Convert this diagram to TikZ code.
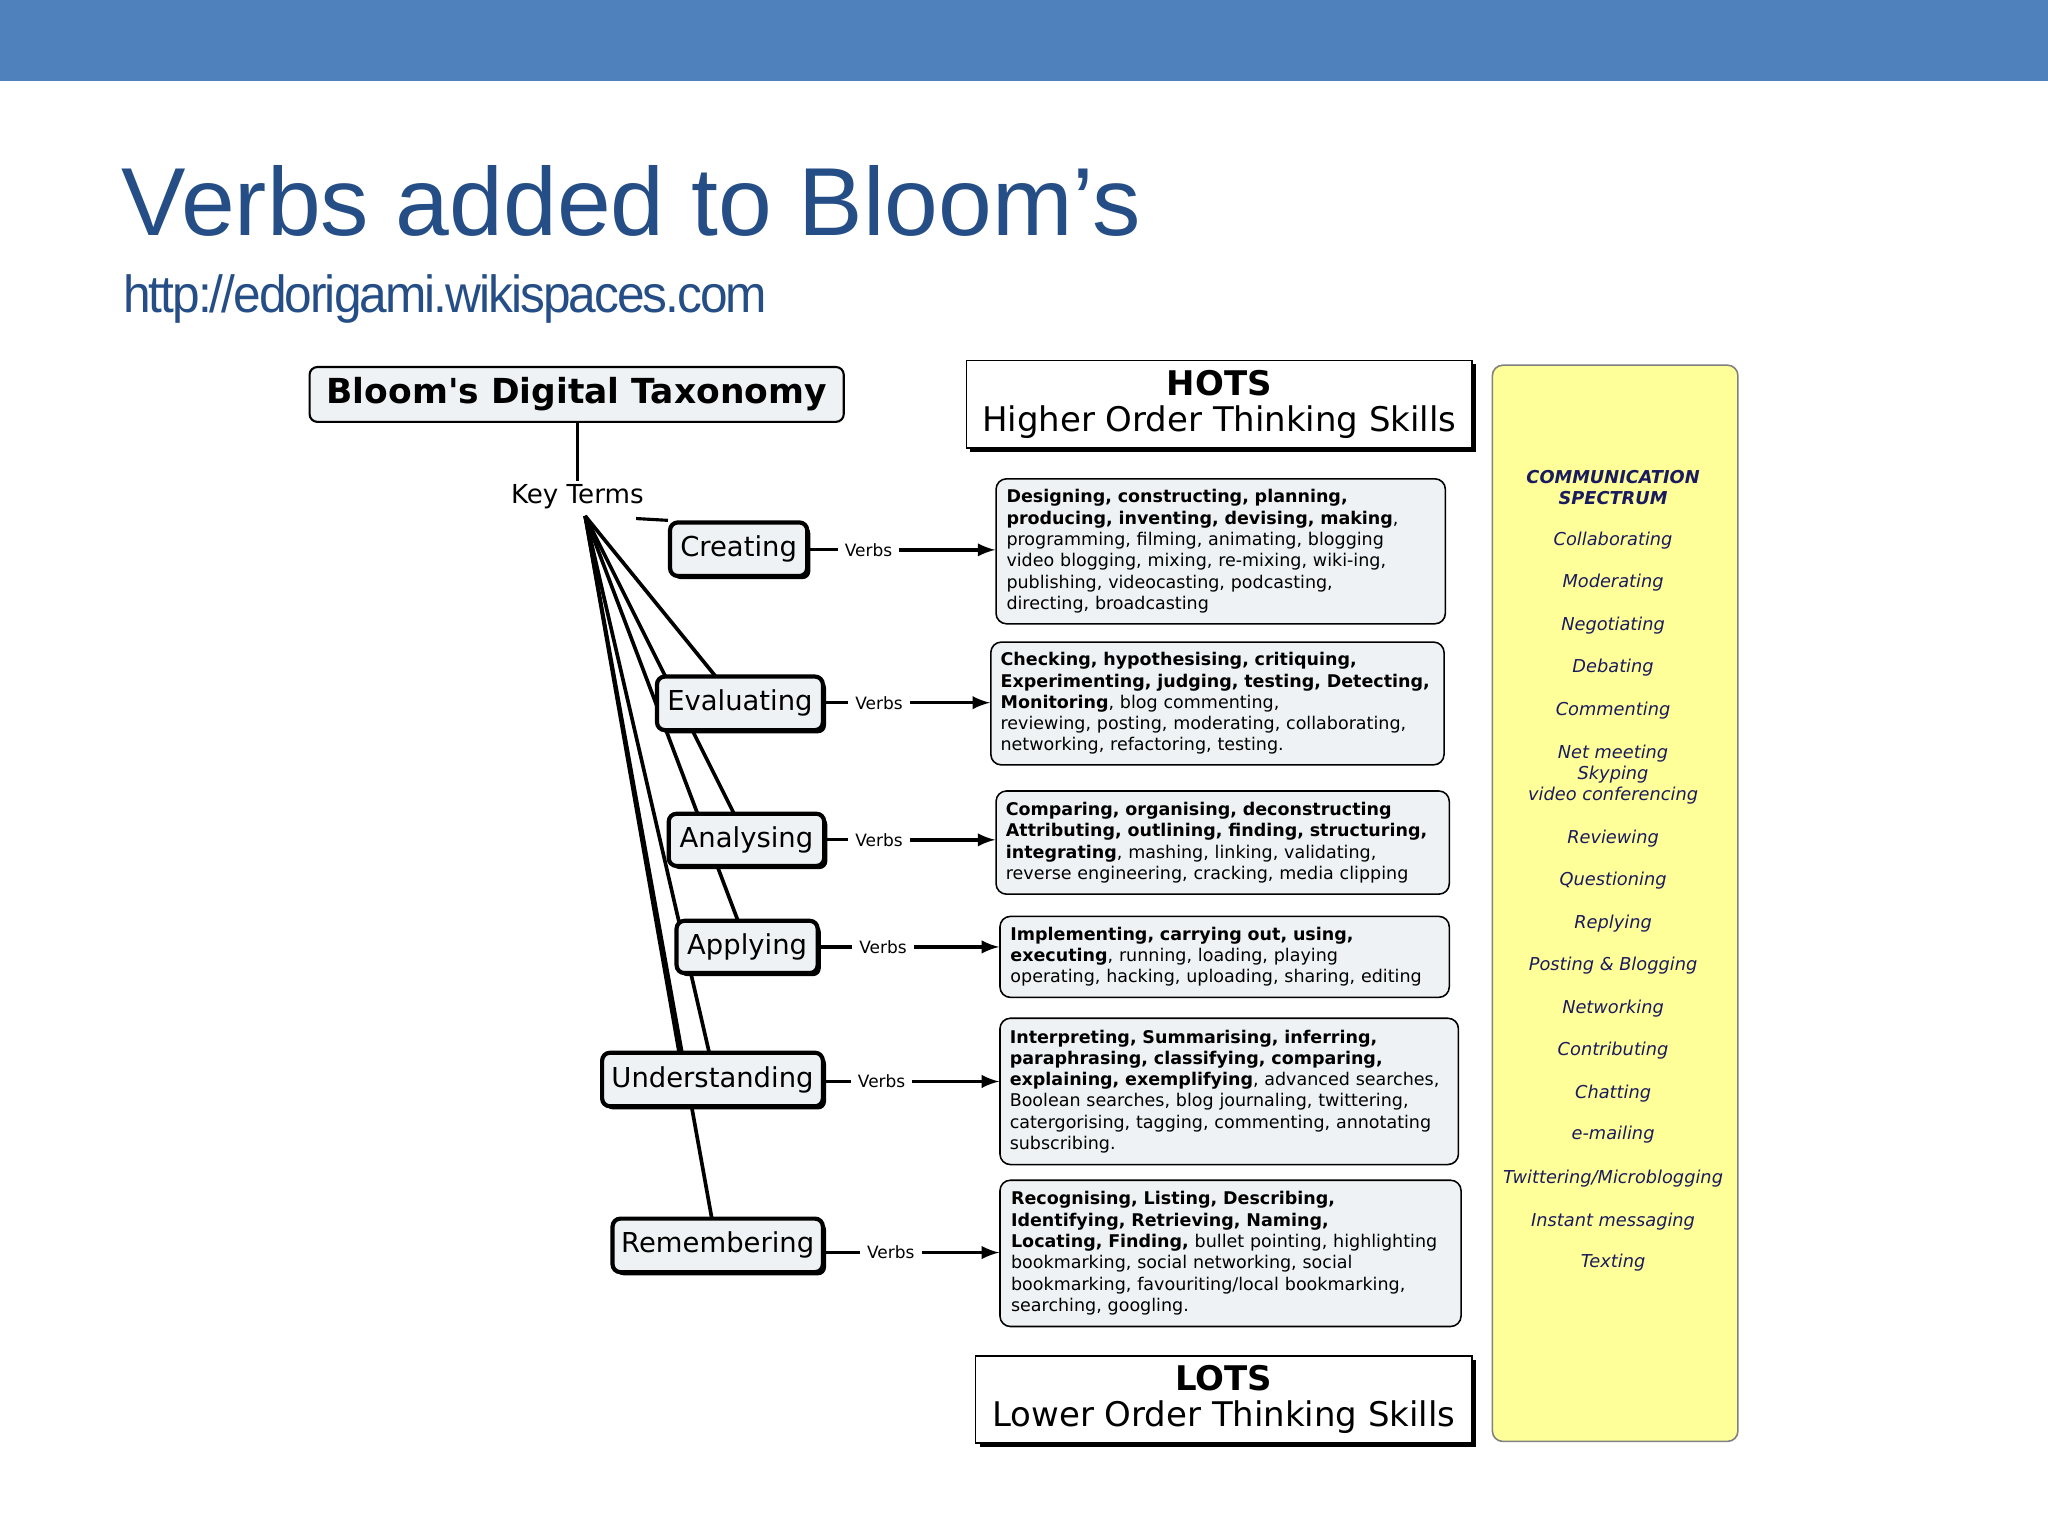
\documentclass[tikz,border=0pt]{standalone}
\usepackage{fontspec}
\setmainfont{DejaVu Sans}
\newfontfamily\arialf{Liberation Sans}
\usetikzlibrary{shadows,backgrounds}
\definecolor{barblue}{HTML}{4F81BD}
\definecolor{titleblue}{HTML}{254E86}
\definecolor{boxgray}{HTML}{EEF2F4}
\definecolor{yel}{HTML}{FFFF99}
\definecolor{navy}{HTML}{1A1A5E}
\begin{document}
\begin{tikzpicture}[x=0.5pt,y=-0.5pt,
  key/.style={draw,line width=1.6pt,rounded corners=3pt,fill=boxgray,inner sep=0pt,font=\fontsize{10.5}{12}\selectfont,
    drop shadow={shadow xshift=1.2pt,shadow yshift=-1.2pt,fill=black,opacity=1}},
  vbox/.style={draw,line width=0.6pt,rounded corners=4pt,fill=boxgray,inner sep=0pt,align=left,anchor=north west,
    font=\fontsize{6.7}{8.15}\selectfont},
  hl/.style={draw,line width=0.6pt,fill=white,inner sep=0pt,align=center,
    drop shadow={shadow xshift=1.5pt,shadow yshift=-1.5pt,fill=black,opacity=1}},
  vb/.style={font=\fontsize{6.5}{7}\selectfont,inner sep=0pt},
  arr/.style={-latex,line width=1.3pt},
  fan/.style={line width=1.4pt},
  yi/.style={font=\itshape\fontsize{6.8}{8.15}\selectfont,text=navy,align=center}]
\useasboundingbox (0,0) rectangle (1568,1176);
\fill[barblue] (0,0) rectangle (1568,62);
\node[anchor=base west,inner sep=0pt,text=titleblue,font=\arialf\fontsize{37}{40}\selectfont] (title) at (93,180) {Verbs added to Bloom’s};
\node[anchor=base west,inner sep=0pt,text=titleblue,font=\arialf\fontsize{20}{22}\selectfont,xscale=0.95] (url) at (94,239) {\addfontfeature{LetterSpace=-4}http://edorigami.wikispaces.com};

\node[draw,line width=0.8pt,rounded corners=3pt,fill=boxgray,minimum width=204.5pt,minimum height=21pt,font=\bfseries\fontsize{13.2}{15}\selectfont] (bdt) at (441.5,302) {Bloom\textquotesingle s Digital Taxonomy};
\node[font=\fontsize{10}{12}\selectfont,inner sep=1pt] (kt) at (442,380) {Key Terms};
\draw[line width=1.2pt] (bdt.south -| kt.north) -- (kt.north);
\coordinate (hub) at (448,395);

\node[key,minimum width=52.5pt,minimum height=20.5pt] (cre) at (565.5,420.5) {Creating};
\node[key,minimum width=63.5pt,minimum height=20.5pt] (eva) at (566.5,538.5) {Evaluating};
\node[key,minimum width=59.5pt,minimum height=20pt] (ana) at (571.5,643) {Analysing};
\node[key,minimum width=54pt,minimum height=20pt] (app) at (572,725) {Applying};
\node[key,minimum width=84.5pt,minimum height=20.5pt] (und) at (545.5,826.5) {Understanding};
\node[key,minimum width=80.5pt,minimum height=20.5pt] (rem) at (549.5,953.5) {Remembering};

\begin{scope}[on background layer]
\draw[line width=1.2pt] (487,397) -- (cre.north west);
\draw[fan] (hub) -- (548,518);
\draw[fan] (hub) -- (562,623);
\draw[fan] (hub) -- (565,705);
\draw[fan] (hub) -- (520,806);
\draw[fan] (hub) -- (543,806);
\draw[fan] (hub) -- (545,933);
\end{scope}

\node[hl,minimum width=193.5pt,minimum height=33.5pt] (hots) at (933.5,309.5)
 {{\bfseries\fontsize{13}{14}\selectfont HOTS}\\[2pt]{\fontsize{13}{15}\selectfont Higher Order Thinking Skills}};
\node[hl,minimum width=190pt,minimum height=33.5pt] (lots) at (937,1071.5)
 {{\bfseries\fontsize{13}{14}\selectfont LOTS}\\[2pt]{\fontsize{13}{15}\selectfont Lower Order Thinking Skills}};

\node[vbox,minimum width=172pt,minimum height=55.5pt,text width=164pt] (v1) at (762,366)
 {\textbf{Designing, constructing, planning,}\\ \textbf{producing, inventing, devising, making},\\ programming, filming, animating, blogging\\ video blogging, mixing, re-mixing, wiki-ing,\\ publishing, videocasting, podcasting,\\ directing, broadcasting};
\node[vbox,minimum width=173.5pt,minimum height=47pt,text width=166pt] (v2) at (758,491)
 {\textbf{Checking, hypothesising, critiquing,}\\ \textbf{Experimenting, judging, testing, Detecting,}\\ \textbf{Monitoring}, blog commenting,\\ reviewing, posting, moderating, collaborating,\\ networking, refactoring, testing.};
\node[vbox,minimum width=173.5pt,minimum height=39.5pt,text width=166pt] (v3) at (762,605)
 {\textbf{Comparing, organising, deconstructing}\\ \textbf{Attributing, outlining, finding, structuring,}\\ \textbf{integrating}, mashing, linking, validating,\\ reverse engineering, cracking, media clipping};
\node[vbox,minimum width=172pt,minimum height=31pt,text width=164pt] (v4) at (765,701)
 {\textbf{Implementing, carrying out, using,}\\ \textbf{executing}, running, loading, playing\\ operating, hacking, uploading, sharing, editing};
\node[vbox,minimum width=175.5pt,minimum height=56pt,text width=168pt] (v5) at (765,779)
 {\textbf{Interpreting, Summarising, inferring,}\\ \textbf{paraphrasing, classifying, comparing,}\\ \textbf{explaining, exemplifying}, advanced searches,\\ Boolean searches, blog journaling, twittering,\\ catergorising, tagging, commenting, annotating\\ subscribing.};
\node[vbox,minimum width=176.5pt,minimum height=56pt,text width=168pt] (v6) at (765,903)
 {\textbf{Recognising, Listing, Describing,}\\ \textbf{Identifying, Retrieving, Naming,}\\ \textbf{Locating, Finding,} bullet pointing, highlighting\\ bookmarking, social networking, social\\ bookmarking, favouriting/local bookmarking,\\ searching, googling.};

\foreach \k/\v/\y/\lx in {cre/v1/421/665, eva/v2/538/673, ana/v3/643/673, app/v4/725/676, und/v5/828/675, rem/v6/959/682}{
  \node[vb] (vl\k) at (\lx,\y) {Verbs};
  \draw[line width=1.2pt] (\k.east |- vl\k) -- ([xshift=-2.5pt]vl\k.west);
  \draw[arr] ([xshift=2.5pt]vl\k.east) -- (\v.west |- vl\k);
}

\node[draw=gray,line width=0.6pt,rounded corners=4pt,fill=yel,anchor=north west,minimum width=94pt,minimum height=412pt] (yb) at (1142,279) {};
\node[yi,font=\bfseries\itshape\fontsize{6.8}{8.15}\selectfont] (cs) at (1235,373) {COMMUNICATION\\SPECTRUM};
\foreach \t/\y [count=\i] in {Collaborating/414,Moderating/446,Negotiating/479,Debating/511,Commenting/544,{Net meeting\\Skyping\\video conferencing}/593,Reviewing/642,Questioning/674,Replying/707,Posting \& Blogging/739,Networking/772,Contributing/804,Chatting/837,e-mailing/869,{Twittering/Microblogging}/902,Instant messaging/935,Texting/967}
  \node[yi] (y\i) at (1235,\y) {\t};
\end{tikzpicture}
\end{document}
